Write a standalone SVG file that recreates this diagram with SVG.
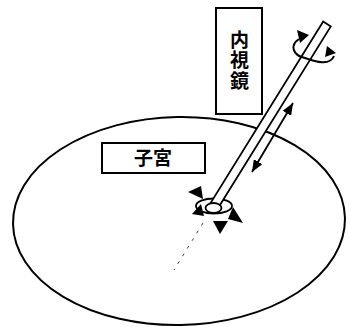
<svg xmlns="http://www.w3.org/2000/svg" width="349" height="327" viewBox="0 0 349 327">
  <style>
    .ln { fill: none; stroke: #000; stroke-width: 2; }
    .wht { fill: #fff; stroke: #000; stroke-width: 1.8; }
    .box { fill: #fff; stroke: #000; stroke-width: 2; }
    .lbl { font-family: "Noto Sans CJK JP", "Noto Sans CJK SC", sans-serif; font-size: 19px; font-weight: 700; fill: #000; }
    .head { fill: #000; stroke: none; }
  </style>
  <defs>
    <marker id="tri" viewBox="0 0 12 10" refX="12" refY="5" markerWidth="12" markerHeight="10" markerUnits="userSpaceOnUse" orient="auto-start-reverse">
      <path d="M0,0 L12,5 L0,10 z" fill="#000"/>
    </marker>
  </defs>

  <rect width="349" height="327" fill="#fff"/>

  <!-- uterus outline -->
  <g id="uterus">
    <ellipse cx="179" cy="221" rx="166" ry="104" transform="rotate(-1 179 221)" class="ln"/>
  </g>

  <!-- label: uterus -->
  <g id="label-uterus">
    <rect x="102" y="143" width="103" height="30" class="box"/>
    <text x="153" y="165" text-anchor="middle" class="lbl" font-size="20">子宮</text>
  </g>

  <!-- label: endoscope, set vertically -->
  <g id="label-endoscope">
    <rect x="216" y="8" width="46" height="106" class="box"/>
    <text x="239.5" y="61" writing-mode="vertical-rl" text-anchor="middle" letter-spacing="1.5" class="lbl">内視鏡</text>
  </g>

  <!-- endoscope shaft and tip -->
  <g id="endoscope">
    <ellipse cx="214" cy="206" rx="18" ry="7.5" class="wht" stroke-width="1.5"/>
    <polygon points="330.8,26.4 323.2,21.6 210.2,203.6 217.8,208.4" class="wht"/>
    <ellipse cx="213.5" cy="208" rx="8" ry="5" class="wht" stroke-width="1.5"/>
  </g>

  <!-- motion arrows -->
  <g id="connectors">
    <!-- insertion / withdrawal along the shaft -->
    <line x1="293" y1="103" x2="252" y2="172" stroke="#000" stroke-width="1.8" marker-start="url(#tri)" marker-end="url(#tri)"/>

    <!-- rotation about the shaft axis -->
    <path d="M299,39 C290,45 292,55 305,58 C316,62 330,66 334,56" class="ln"/>
    <polygon points="297,30 309,35 300,43" class="head"/>
    <polygon points="327,46 336,53 325,57" class="head"/>

    <!-- tip deflection directions -->
    <polygon points="188,192 201,186 203,199" class="head"/>
    <polygon points="192,214 201,204 204,216" class="head"/>
    <polygon points="213,221 228,221 220,234" class="head"/>
    <polygon points="233,207 243,223 228,219" class="head"/>

    <!-- projected axis below the tip -->
    <line x1="203" y1="223" x2="174" y2="270" stroke="#444" stroke-width="1" stroke-dasharray="3 6"/>
  </g>
</svg>
